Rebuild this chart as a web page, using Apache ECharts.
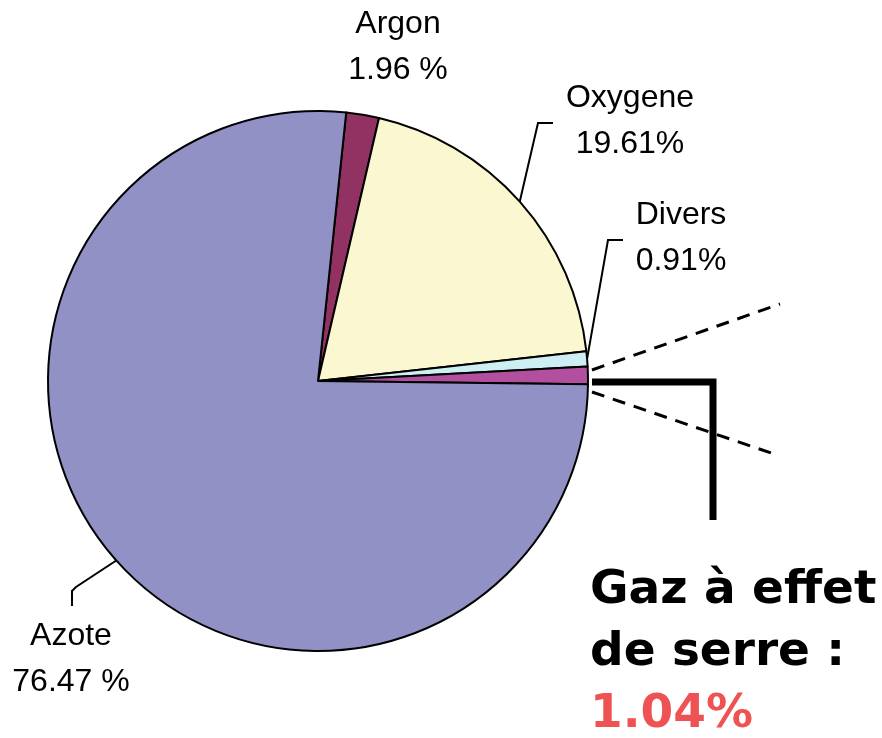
<!DOCTYPE html>
<html>
<head>
<meta charset="utf-8">
<script src="https://cdn.jsdelivr.net/npm/echarts@6/dist/echarts.min.js"></script>
<style>
  html, body { margin: 0; padding: 0; background: #fff; }
  #main { width: 882px; height: 738px; }
</style>
</head>
<body>
<div id="main"></div>
<script>
// données (ordre horaire depuis le haut)
const names = ['Argon', 'Oxygene', 'Divers', 'Gaz à effet de serre', 'Azote'];
const values = [1.96, 19.61, 0.91, 1.04, 76.47];
const pctText = ['1.96 %', '19.61%', '0.91%', '1.04%', '76.47 %'];
const colors = ['#923263', '#FBF7D0', '#CDEEF2', '#B24F9F', '#9191C6'];

var myChart = echarts.init(document.getElementById('main'));

// position des étiquettes et coudes des traits de rappel
const labelPos = [
  { x: 398, y: 47 },
  { x: 630, y: 121, bend: [[538, 123], [553, 123]] },
  { x: 681, y: 238, bend: [[608, 240], [623, 240]] },
  { x: 590, y: 560 },
  { x: 71, y: 659, bend: [[76, 587], [72, 591], [72, 606]] }
];

const pieData = names.map((n, i) => {
  const item = {
    name: n,
    value: values[i],
    itemStyle: { color: colors[i] }
  };
  if (i === 3) {
    item.label = {
      formatter: '{b|Gaz à effet}\n{b|de serre :}\n{r|' + pctText[i] + '}',
      rich: {
        b: { fontFamily: 'DejaVu Sans', fontWeight: 'bold', fontSize: 47, lineHeight: 62, color: '#000' },
        r: { fontFamily: 'DejaVu Sans', fontWeight: 'bold', fontSize: 47, lineHeight: 62, color: '#EE5253' }
      }
    };
    item.labelLine = { show: true, lineStyle: { width: 7, color: '#000' } };
  }
  if (i === 0) {
    item.labelLine = { show: false };
  }
  return item;
});

myChart.setOption({
  animation: false,
  backgroundColor: '#fff',
  series: [
    {
      type: 'pie',
      center: [318, 381],
      radius: 270,
      startAngle: 84,
      clockwise: true,
      avoidLabelOverlap: false,
      itemStyle: { borderColor: '#000', borderWidth: 2 },
      label: {
        show: true,
        position: 'outside',
        fontFamily: 'Liberation Sans',
        fontSize: 32,
        lineHeight: 46,
        color: '#000',
        formatter: function (p) {
          return p.name + '\n' + pctText[p.dataIndex];
        }
      },
      labelLine: { show: true, lineStyle: { color: '#000', width: 2 } },
      labelLayout: function (params) {
        const i = params.dataIndex;
        const pos = labelPos[i];
        const start = params.labelLinePoints ? params.labelLinePoints[0] : null;
        if (i === 3) {
          return {
            x: pos.x, y: pos.y, align: 'left', verticalAlign: 'top',
            labelLinePoints: [[592, 382], [713, 382], [713, 520]]
          };
        }
        const out = { x: pos.x, y: pos.y, align: 'center', verticalAlign: 'middle' };
        if (pos.bend && start) {
          out.labelLinePoints = [start].concat(pos.bend);
        }
        return out;
      },
      emphasis: { disabled: true },
      data: pieData
    }
  ],
  graphic: [
    {
      type: 'line',
      shape: { x1: 592, y1: 370, x2: 780, y2: 304 },
      style: { stroke: '#000', lineWidth: 3, lineDash: [13, 9] }
    },
    {
      type: 'line',
      shape: { x1: 592, y1: 392, x2: 777, y2: 455 },
      style: { stroke: '#000', lineWidth: 3, lineDash: [13, 9] }
    }
  ]
});
</script>
</body>
</html>
